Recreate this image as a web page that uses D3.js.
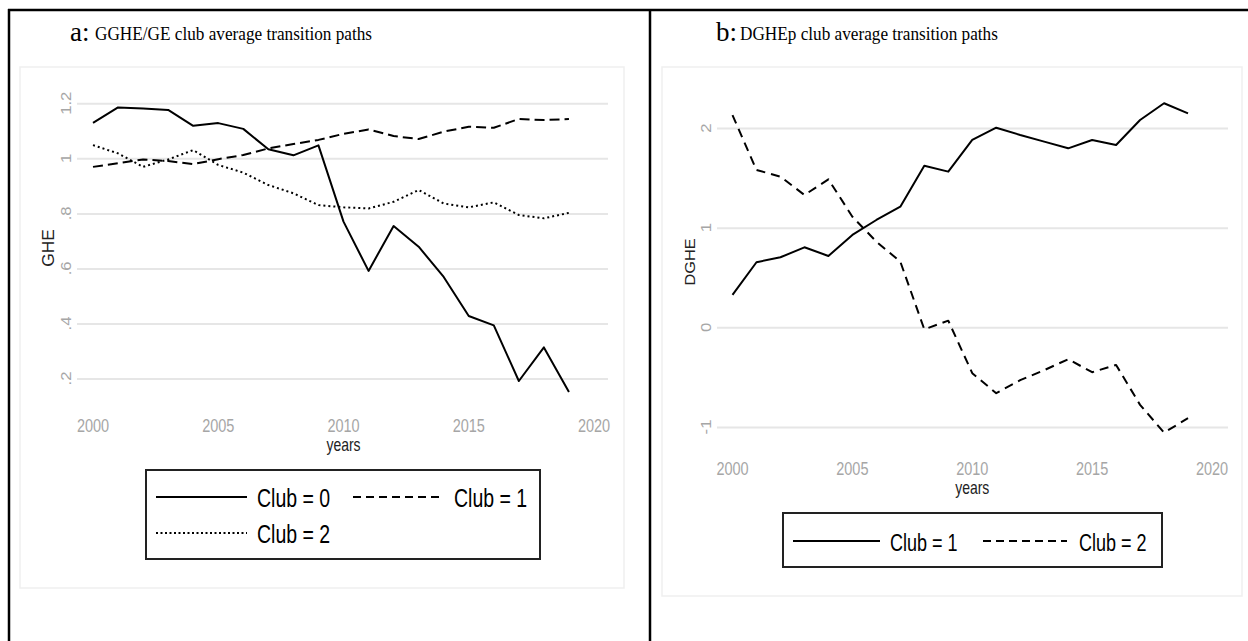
<!DOCTYPE html>
<html>
<head>
<meta charset="utf-8">
<script src="https://cdn.jsdelivr.net/npm/d3@7"></script>
<style>
  body { margin: 0; background: #fff; }
  svg { display: block; }
</style>
</head>
<body>
<div id="chart"></div>
<script>
// data
const years = [2000, 2001, 2002, 2003, 2004, 2005, 2006, 2007, 2008, 2009,
  2010, 2011, 2012, 2013, 2014, 2015, 2016, 2017, 2018, 2019]

const ghe0 = [1.129, 1.185, 1.181, 1.176, 1.118, 1.128, 1.107, 1.033, 1.011, 1.047,
  0.770, 0.591, 0.754, 0.679, 0.569, 0.427, 0.393, 0.191, 0.313, 0.151]
const ghe1 = [0.969, 0.982, 0.996, 0.990, 0.979, 0.997, 1.012, 1.036, 1.052, 1.067,
  1.089, 1.105, 1.081, 1.070, 1.097, 1.115, 1.111, 1.143, 1.139, 1.143]
const ghe2 = [1.048, 1.018, 0.969, 0.996, 1.030, 0.976, 0.948, 0.903, 0.873, 0.830,
  0.822, 0.818, 0.842, 0.885, 0.836, 0.822, 0.840, 0.794, 0.782, 0.802]

const dghe1 = [0.325, 0.653, 0.703, 0.803, 0.716, 0.927, 1.077, 1.210, 1.622, 1.562,
  1.880, 2.003, 1.930, 1.863, 1.796, 1.880, 1.830, 2.080, 2.248, 2.147]
const dghe2 = [2.130, 1.579, 1.512, 1.328, 1.485, 1.110, 0.860, 0.659, -0.020, 0.067,
  -0.460, -0.661, -0.530, -0.430, -0.320, -0.450, -0.377, -0.778, -1.056, -0.912]

const yearTicks = [2000, 2005, 2010, 2015, 2020]
const gheTicks = [0.2, 0.4, 0.6, 0.8, 1, 1.2]
const dgheTicks = [-1, 0, 1, 2]

const W = 1248
const H = 641
const FONT = 'Liberation Sans, Arial, sans-serif'
const SERIF = 'Liberation Serif, Times New Roman, serif'

const svg = d3.select('#chart')
  .append('svg')
  .attr('width', W)
  .attr('height', H)

// the picture is a bit stretched vertically, so text gets a y scale
function label(g, x, y, str, o = {}) {
  const sy = o.sy || 1.25
  const tf = o.rotate
    ? `translate(${x},${y}) rotate(-90) scale(${sy},1)`
    : `translate(${x},${y}) scale(1,${sy})`
  return g.append('text')
    .attr('transform', tf)
    .attr('text-anchor', o.anchor || 'start')
    .attr('font-family', o.family || FONT)
    .attr('font-size', o.size || 14)
    .attr('fill', o.color || '#000')
    .text(str)
}

function stataNum(d) {
  const s = d3.format('~g')(d)
  return s.replace(/^0\./, '.').replace('−', '-')
}

function drawPanel(cfg) {
  const g = svg.append('g')

  // title
  label(g, cfg.titleX, 41, cfg.letter, { family: SERIF, size: 27, sy: 1.05 })
  label(g, cfg.titleX + cfg.letterW, 40, cfg.title, { family: SERIF, size: 17.2, sy: 1.1 })

  // faint graph region
  g.append('rect')
    .attr('x', cfg.region[0]).attr('y', cfg.region[1])
    .attr('width', cfg.region[2] - cfg.region[0])
    .attr('height', cfg.region[3] - cfg.region[1])
    .attr('fill', '#fff')
    .attr('stroke', '#efefef')
    .attr('stroke-width', 1.5)

  const x = d3.scaleLinear().domain([2000, 2020]).range(cfg.xRange)
  const y = d3.scaleLinear().domain(cfg.yDomain).range(cfg.yRange)

  // gridlines
  g.append('g')
    .attr('transform', `translate(${cfg.gridX[1]},0)`)
    .call(d3.axisLeft(y).tickValues(cfg.yTicks).tickSize(cfg.gridX[1] - cfg.gridX[0]).tickFormat(''))
    .call(a => a.select('.domain').remove())
    .call(a => a.selectAll('line').attr('stroke', '#e6e6e6').attr('stroke-width', 2))

  // y tick labels, rotated like Stata does
  cfg.yTicks.forEach(t => {
    label(g, cfg.yLabelX, y(t), stataNum(t), { rotate: true, anchor: 'middle', size: 14.5, color: '#a6a6a6', sy: 1.15 })
  })
  // x tick labels
  yearTicks.forEach(t => {
    label(g, x(t), cfg.xLabelY, t, { anchor: 'middle', size: 14.5, color: '#a6a6a6' })
  })

  label(g, cfg.yTitle[0], cfg.yTitle[1], cfg.yName, { rotate: true, anchor: 'middle', size: cfg.yTitleSize, color: '#222', sy: 1.05 })
  label(g, x(2010), cfg.xTitleY, 'years', { anchor: 'middle', size: 14, color: '#222' })

  const line = d3.line()
    .x((d, i) => x(years[i]))
    .y(d => y(d))

  cfg.series.forEach(s => {
    g.append('path')
      .datum(s.values)
      .attr('d', line)
      .attr('fill', 'none')
      .attr('stroke', '#000')
      .attr('stroke-width', 2)
      .attr('stroke-linejoin', 'round')
      .attr('stroke-dasharray', s.dash)
  })

  // legend box
  const L = cfg.legend
  g.append('rect')
    .attr('x', L.box[0]).attr('y', L.box[1])
    .attr('width', L.box[2] - L.box[0]).attr('height', L.box[3] - L.box[1])
    .attr('fill', '#fff')
    .attr('stroke', '#222')
    .attr('stroke-width', 2)
  cfg.series.forEach((s, i) => {
    const p = L.items[i]
    g.append('line')
      .attr('x1', p[0]).attr('x2', p[1])
      .attr('y1', p[2]).attr('y2', p[2])
      .attr('stroke', '#000')
      .attr('stroke-width', 2)
      .attr('stroke-dasharray', s.legendDash)
    label(g, p[3], p[2] + 10, s.name, { size: L.size, sy: 1.28 })
  })
}

drawPanel({
  letter: 'a:',
  letterW: 25,
  titleX: 70,
  title: 'GGHE/GE club average transition paths',
  region: [20, 67, 624, 588],
  xRange: [93, 594],
  yDomain: [0.2, 1.2],
  yRange: [378.5, 103.3],
  yTicks: gheTicks,
  gridX: [77, 608],
  yLabelX: 71,
  xLabelY: 432,
  xTitleY: 451,
  yName: 'GHE',
  yTitleSize: 16.5,
  yTitle: [54, 248],
  series: [
    { name: 'Club = 0', values: ghe0, dash: null, legendDash: null },
    { name: 'Club = 1', values: ghe1, dash: '10,5', legendDash: '8,5' },
    { name: 'Club = 2', values: ghe2, dash: '2,3', legendDash: '2,2.5' }
  ],
  legend: {
    box: [146, 470, 540, 559],
    size: 19.5,
    items: [[156, 247, 497, 257], [353, 442, 497, 454], [156, 247, 533, 257]]
  }
})

drawPanel({
  letter: 'b:',
  letterW: 24,
  titleX: 716,
  title: 'DGHEp club average transition paths',
  region: [662, 67, 1242, 596],
  xRange: [732.5, 1212],
  yDomain: [-1, 2],
  yRange: [427, 128],
  yTicks: dgheTicks,
  gridX: [717, 1228],
  yLabelX: 711,
  xLabelY: 475,
  xTitleY: 494,
  yName: 'DGHE',
  yTitleSize: 15.5,
  yTitle: [695, 262],
  series: [
    { name: 'Club = 1', values: dghe1, dash: null, legendDash: null },
    { name: 'Club = 2', values: dghe2, dash: '9,6', legendDash: '8,5' }
  ],
  legend: {
    box: [783, 513, 1162, 567],
    size: 18,
    items: [[793, 880, 541, 890], [983, 1067, 541, 1079]]
  }
})

// outer table frame
const frame = svg.append('g')
  .attr('stroke', '#000')
  .attr('stroke-width', 2.5)
frame.append('line').attr('x1', 8).attr('x2', W).attr('y1', 10).attr('y2', 10)
frame.append('line').attr('x1', 9).attr('x2', 9).attr('y1', 9).attr('y2', H)
frame.append('line').attr('x1', 650).attr('x2', 650).attr('y1', 9).attr('y2', H)
</script>
</body>
</html>
